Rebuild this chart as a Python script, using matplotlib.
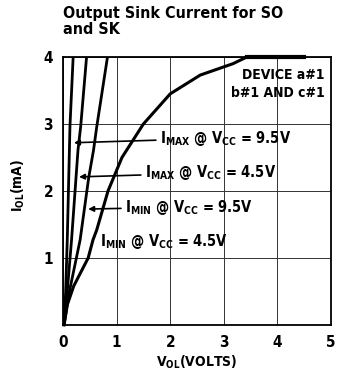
import matplotlib
matplotlib.use('Agg')
from matplotlib import pyplot as plt
from matplotlib import font_manager as fm

# curve data (V_OL in volts, I_OL in mA)
imax_95_v = [0.02, 0.05, 0.08, 0.12, 0.13, 0.19]
imax_95_i = [0.0, 0.5, 1.27, 2.61, 2.96, 4.0]

imax_45_v = [0.02, 0.08, 0.16, 0.28, 0.33, 0.44]
imax_45_i = [0.0, 0.5, 1.27, 2.61, 2.96, 4.0]

imin_95_v = [0.02, 0.12, 0.32, 0.48, 0.57, 0.63, 0.83]
imin_95_i = [0.0, 0.5, 1.27, 2.2, 2.61, 2.96, 4.0]

imin_45_v = [0.02, 0.08, 0.2, 0.47, 0.56, 0.63, 0.84, 1.1, 1.5, 2.0, 2.56, 3.17, 3.43, 4.5]
imin_45_i = [0.0, 0.3, 0.58, 1.0, 1.27, 1.42, 2.0, 2.5, 3.0, 3.45, 3.73, 3.9, 4.0, 4.0]

x_ticks = [0, 1, 2, 3, 4, 5]
y_ticks = [1, 2, 3, 4]


# the original uses a condensed grotesque; use a narrow face if one is installed
def pick_font():
    for fam, st in [('DejaVu Sans', 'condensed'), ('Liberation Sans Narrow', 'normal')]:
        try:
            p = fm.findfont(fm.FontProperties(family=fam, stretch=st, weight='bold'),
                            fallback_to_default=False)
        except ValueError:
            continue
        if 'Narrow' in p or 'Condensed' in p:
            return fam, st
    return 'Liberation Sans', 'normal'


fam, stretch = pick_font()
narrow = stretch != 'normal' or 'Narrow' in fam
plt.rcParams['font.family'] = [fam, 'DejaVu Sans']
plt.rcParams['font.stretch'] = stretch
plt.rcParams['font.weight'] = 'bold'
plt.rcParams['mathtext.default'] = 'regular'

fs = 10.5 if narrow else 9.5
fig = plt.figure(figsize=(3.46, 3.85), dpi=100)
ax = fig.add_axes([0.182, 0.156, 0.775, 0.696])

ax.plot(imax_95_v, imax_95_i, color='black', lw=2)
ax.plot(imax_45_v, imax_45_i, color='black', lw=2)
ax.plot(imin_95_v, imin_95_i, color='black', lw=2)
ax.plot(imin_45_v, imin_45_i, color='black', lw=2.2, clip_on=False)
ax.plot(imin_45_v[-2:], imin_45_i[-2:], color='black', lw=3, clip_on=False)

ax.set_xlim(0, 5)
ax.set_ylim(0, 4)
ax.set_xticks(x_ticks)
ax.set_yticks(y_ticks)
ax.tick_params(length=0, labelsize=11, pad=7)
for spine in ax.spines.values():
    spine.set_linewidth(1.3)
ax.grid(True, color='#333333', lw=0.7)

# curve labels with arrows
arrow = dict(arrowstyle='-|>', color='black', lw=1.2, mutation_scale=8, shrinkA=1, shrinkB=0)
ax.annotate('I$_{MAX}$ @ V$_{CC}$ = 9.5V', xy=(0.205, 2.72), xytext=(1.81, 2.79),
            fontsize=fs, va='center', arrowprops=arrow)
ax.annotate('I$_{MAX}$ @ V$_{CC}$ = 4.5V', xy=(0.30, 2.21), xytext=(1.53, 2.27),
            fontsize=fs, va='center', arrowprops=arrow)
ax.annotate('I$_{MIN}$ @ V$_{CC}$ = 9.5V', xy=(0.47, 1.73), xytext=(1.16, 1.76),
            fontsize=fs, va='center', arrowprops=arrow)
ax.text(0.69, 1.24, 'I$_{MIN}$ @ V$_{CC}$ = 4.5V', fontsize=fs, va='center')

ax.text(4.88, 3.6, 'DEVICE a#1\nb#1 AND c#1', fontsize=fs - 0.5, ha='right', va='center',
        linespacing=1.35)

fig.text(0.182, 0.985, 'Output Sink Current for SO\nand SK', fontsize=11.5, ha='left', va='top',
         linespacing=1.1)
fig.text(197 / 346, 1 - 362 / 385, 'V$_{OL}$(VOLTS)', fontsize=fs - 0.5, ha='center',
         va='center')
fig.text(18 / 346, 1 - 185 / 385, 'I$_{OL}$(mA)', fontsize=fs - 0.5, ha='center', va='center',
         rotation=90)

fig.savefig('out.png', dpi=100)
